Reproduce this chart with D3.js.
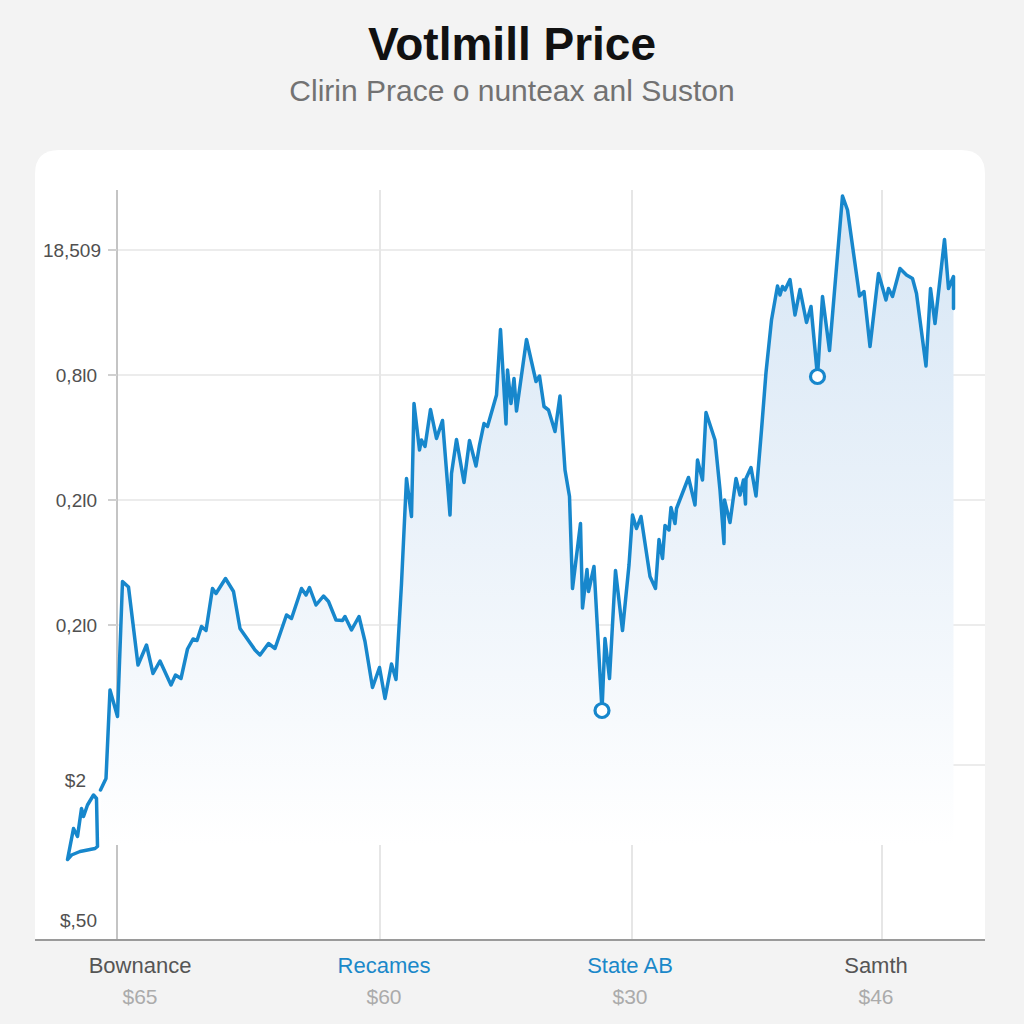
<!DOCTYPE html>
<html>
<head>
<meta charset="utf-8">
<script src="https://cdn.jsdelivr.net/npm/d3@7"></script>
<style>
  html, body { margin: 0; padding: 0; background: #f3f3f3; }
  svg { display: block; font-family: "Liberation Sans", Arial, sans-serif; }
</style>
</head>
<body>
<svg id="chart" width="1024" height="1024"></svg>
<script>
// ---------- data ----------
const title = "Votlmill Price";
const subtitle = "Clirin Prace o nunteax anl Suston";

const categories = ["Bownance", "Recames", "State AB", "Samth"];
const categoryValues = ["$65", "$60", "$30", "$46"];
const categoryPos = [16, 64.8, 114, 163.2];
const categoryColors = ["#555555", "#1a88c9", "#1a88c9", "#555555"];
const verticalGrid = [64, 114.4, 164.4];

const yTickValues = [138, 113, 88, 63, 32, 4];
const yTickLabels = ["18,509", "0,8l0", "0,2l0", "0,2l0", "$2", "$,50"];
const yGridValues = [138, 113, 88, 63, 35];

// small leading loop (t, value)
const loopT = [1.5, 2.7, 3.5, 4.3, 4.7, 5.5, 6.7, 7.3, 7.5, 7.0, 4.0, 2.3, 1.5];
const loopV = [16.1, 22.3, 20.7, 26.3, 24.7, 27, 29, 28.3, 18.7, 18.3, 17.7, 17, 16.1];

// main price series (t, value)
const priceT = [
  8.1, 9.2, 10, 11.5, 12.5, 13.7, 15.6, 17.3, 18.6, 20, 22.2, 23.1, 24.2, 25.5, 26.6, 27.4,
  28.3, 29.2, 30.5, 31.2, 33.1, 34.7, 36, 39, 40, 41.7, 43, 45.3, 46.3, 48.3, 49.2, 49.9,
  51.2, 52.7, 53.7, 55.2, 56.5, 57, 58.3, 59.8, 61, 62.5, 63.9, 65, 66.3, 67.2, 68.3, 69.3,
  70.3, 70.8, 71.9, 72.3, 73, 74.1, 75.3, 76.5, 78, 78.3, 79.3, 80.8, 81.9, 83.2, 83.9, 84.8,
  85.5, 87.3, 88.1, 89.2, 89.5, 90.2, 90.8, 91.3, 93.3, 95.2, 95.9, 96.8, 97.7, 99, 100, 101,
  101.9, 102.5, 104.1, 104.5, 105.4, 105.7, 106.8, 108.4, 109, 109.9, 111.1, 112.5, 113.8, 114.5, 115.3, 116.2,
  118, 119.1, 119.8, 120.5, 121, 121.8, 122.2, 123, 123.3, 125.7, 127, 127.5, 128.5, 129.2, 131, 132,
  132.8, 132.9, 134, 135.2, 136, 136.7, 137.1, 137.2, 138.2, 139.2, 140.3, 141.2, 142.3, 143.5, 144, 144.5,
  145, 146, 147, 148, 149.3, 150.2, 151.5, 152.5, 153.9, 156.5, 157.5, 159.9, 160.8, 162, 163.7, 165.2,
  165.7, 166.5, 168, 169.3, 170.5, 171.3, 173.2, 174.1, 175, 176.9, 177.7, 178.7, 178.7
];
const priceV = [
  30, 32.3, 50, 44.7, 71.7, 70.6, 55, 59, 53.3, 55.8, 51, 53, 52.3, 58.2, 60.2, 59.9,
  62.7, 61.9, 70.3, 69.3, 72.3, 69.7, 62.3, 58, 57, 59.3, 58.3, 65, 64.3, 70.3, 69, 70.5,
  67, 68.8, 67.7, 64, 63.9, 64.7, 62, 64.7, 59.7, 50.5, 54.5, 48.3, 55.2, 52.1, 71.3, 92.3,
  84.7, 107.3, 98, 100, 98.7, 106.1, 100.3, 103.9, 85, 93.3, 100.1, 91.5, 99.9, 94.8, 99, 103.3,
  102.7, 109, 122.1, 103.2, 114, 107.3, 112.3, 105.8, 120.1, 111.7, 112.8, 106.7, 106, 101.7, 108.8, 94,
  88.7, 70.3, 83.3, 66.4, 74.1, 69.7, 74.7, 45.9, 60.3, 52.3, 73.9, 61.9, 75, 85, 82.3, 84.7,
  72.7, 70.3, 80.1, 76.3, 82.9, 82, 86.5, 83.3, 86.3, 92.5, 87, 96, 92, 105.5, 100, 90,
  79.3, 88, 83.5, 92.3, 89, 92, 87.2, 92.3, 94.5, 88.8, 102, 113.5, 124, 130.8, 129, 130.7,
  130, 132.1, 125, 130.1, 123.5, 126.7, 112.7, 128.7, 117.9, 148.8, 146, 128.8, 129.7, 118.7, 133.3, 128,
  130.3, 128.7, 134.3, 133, 132.3, 129.3, 114.8, 130.3, 123.3, 140.1, 130.3, 132.7, 126.3
];

// highlighted points (indices into the main series)
const markerIdx = [87, 134];
const areaBaseline = 19;

// ---------- drawing ----------
const svg = d3.select("#chart");
const W = 1024, H = 1024;

const x = d3.scaleLinear().domain([0, 180]).range([60, 960]);
const y = d3.scaleLinear().domain([0, 150]).range([940, 190]);

const defs = svg.append("defs");
const grad = defs.append("linearGradient")
  .attr("id", "areaGrad").attr("gradientUnits", "userSpaceOnUse")
  .attr("x1", 0).attr("x2", 0).attr("y1", y(150)).attr("y2", y(areaBaseline));
grad.append("stop").attr("offset", "0").attr("stop-color", "#d6e6f5");
grad.append("stop").attr("offset", "0.55").attr("stop-color", "#ecf3fa");
grad.append("stop").attr("offset", "1").attr("stop-color", "#ffffff");

// background
svg.append("rect").attr("width", W).attr("height", H).attr("fill", "#f3f3f3");

// card
const cardL = 35, cardR = 985, cardT = 150, cardB = y(0);
svg.append("path")
  .attr("d", `M${cardL},${cardB} L${cardL},${cardT + 24} Q${cardL},${cardT} ${cardL + 24},${cardT}
              L${cardR - 24},${cardT} Q${cardR},${cardT} ${cardR},${cardT + 24} L${cardR},${cardB} Z`)
  .attr("fill", "#ffffff");

// title
svg.append("text").attr("x", 512).attr("y", 60).attr("text-anchor", "middle")
  .attr("font-size", 46).attr("font-weight", "bold").attr("fill", "#111").text(title);
svg.append("text").attr("x", 512).attr("y", 101).attr("text-anchor", "middle")
  .attr("font-size", 30).attr("fill", "#727272").text(subtitle);

const axisX = x(11.4);

// horizontal gridlines
svg.append("g").selectAll("line").data(yGridValues).join("line")
  .attr("x1", axisX).attr("x2", cardR)
  .attr("y1", d => y(d)).attr("y2", d => y(d))
  .attr("stroke", "#ececec").attr("stroke-width", 2);

// vertical gridlines
svg.append("g").selectAll("line").data(verticalGrid).join("line")
  .attr("x1", d => x(d)).attr("x2", d => x(d))
  .attr("y1", y(150)).attr("y2", y(0))
  .attr("stroke", "#e6e6e6").attr("stroke-width", 2);

// y axis line
svg.append("line").attr("x1", axisX).attr("x2", axisX)
  .attr("y1", y(150)).attr("y2", y(0))
  .attr("stroke", "#c4c4c4").attr("stroke-width", 2);

// y axis ticks + labels via d3 axis
const yAxis = d3.axisLeft(y)
  .tickValues(yTickValues)
  .tickSize(0)
  .tickPadding(0)
  .tickFormat((d, i) => yTickLabels[i]);
const gy = svg.append("g").attr("transform", `translate(${axisX - 16},0)`).call(yAxis);
gy.select(".domain").remove();
gy.selectAll("text").attr("font-size", 19).attr("fill", "#505050")
  .attr("font-family", "Liberation Sans, Arial, sans-serif")
  .attr("dx", (d, i) => (i === 4 ? -15 : (i === 0 ? 0 : -4)));
// small tick marks on the upper ticks
svg.append("g").selectAll("line").data(yTickValues.slice(0, 4)).join("line")
  .attr("x1", axisX - 9).attr("x2", axisX)
  .attr("y1", d => y(d)).attr("y2", d => y(d))
  .attr("stroke", "#d0d0d0").attr("stroke-width", 2);

// area
const pts = priceT.map((t, i) => [t, priceV[i]]);
const area = d3.area().x(d => x(d[0])).y0(y(areaBaseline)).y1(d => y(d[1]));
svg.append("path").datum(pts).attr("d", area).attr("fill", "url(#areaGrad)");

// lines
const line = d3.line().x(d => x(d[0])).y(d => y(d[1]));
const loopPts = loopT.map((t, i) => [t, loopV[i]]);
svg.append("path").datum(loopPts).attr("d", line)
  .attr("fill", "none").attr("stroke", "#1787cc").attr("stroke-width", 3.5)
  .attr("stroke-linejoin", "round").attr("stroke-linecap", "round");
svg.append("path").datum(pts).attr("d", line)
  .attr("fill", "none").attr("stroke", "#1787cc").attr("stroke-width", 3.5)
  .attr("stroke-linejoin", "round").attr("stroke-linecap", "round");

// markers
svg.append("g").selectAll("circle").data(markerIdx.map(i => pts[i])).join("circle")
  .attr("cx", d => x(d[0])).attr("cy", d => y(d[1])).attr("r", 7)
  .attr("fill", "#ffffff").attr("stroke", "#1787cc").attr("stroke-width", 3.2);

// x axis baseline
svg.append("line").attr("x1", cardL).attr("x2", cardR)
  .attr("y1", y(0)).attr("y2", y(0))
  .attr("stroke", "#9a9a9a").attr("stroke-width", 2);

// x category labels
const gx = svg.append("g");
gx.selectAll("text.cat").data(categories).join("text").attr("class", "cat")
  .attr("x", (d, i) => x(categoryPos[i])).attr("y", 973)
  .attr("text-anchor", "middle").attr("font-size", 22)
  .attr("fill", (d, i) => categoryColors[i]).text(d => d);
gx.selectAll("text.val").data(categoryValues).join("text").attr("class", "val")
  .attr("x", (d, i) => x(categoryPos[i])).attr("y", 1004)
  .attr("text-anchor", "middle").attr("font-size", 21)
  .attr("fill", "#ababab").text(d => d);
</script>
</body>
</html>
